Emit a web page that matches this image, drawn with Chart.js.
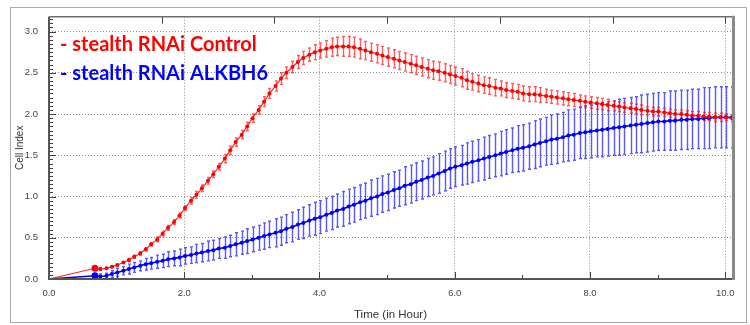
<!DOCTYPE html>
<html>
<head>
<meta charset="utf-8">
<script src="https://cdn.jsdelivr.net/npm/chart.js@4.4.1/dist/chart.umd.min.js"></script>
<style>
  html, body { margin: 0; padding: 0; background: #fff; }
</style>
</head>
<body>
<canvas id="cellIndex" width="750" height="325"></canvas>
<script>
// sampling times (hours)
const timeHours = [0,
  0.68, 0.76, 0.85, 0.93,
  1.01, 1.10, 1.18, 1.26, 1.35, 1.43, 1.51, 1.60, 1.68, 1.76, 1.85, 1.93,
  2.01, 2.10, 2.18, 2.26, 2.35, 2.43, 2.51, 2.60, 2.68, 2.76, 2.85, 2.93,
  3.01, 3.10, 3.18, 3.26, 3.35, 3.43, 3.51, 3.60, 3.68, 3.76, 3.85, 3.93,
  4.01, 4.10, 4.18, 4.26, 4.35, 4.43, 4.51, 4.60, 4.68, 4.76, 4.85, 4.93,
  5.01, 5.10, 5.18, 5.26, 5.35, 5.43, 5.51, 5.60, 5.68, 5.76, 5.85, 5.93,
  6.01, 6.10, 6.18, 6.26, 6.35, 6.43, 6.51, 6.60, 6.68, 6.76, 6.85, 6.93,
  7.01, 7.10, 7.18, 7.26, 7.35, 7.43, 7.51, 7.60, 7.68, 7.76, 7.85, 7.93,
  8.01, 8.10, 8.18, 8.26, 8.35, 8.43, 8.51, 8.60, 8.68, 8.76, 8.85, 8.93,
  9.01, 9.10, 9.18, 9.26, 9.35, 9.43, 9.51, 9.60, 9.68, 9.76, 9.85, 9.93,
  10.01, 10.10];

const controlMean = [0,
  0.13, 0.12, 0.13, 0.15,
  0.17, 0.20, 0.23, 0.27, 0.31, 0.36, 0.42, 0.48, 0.55, 0.62, 0.69, 0.77,
  0.86, 0.95, 1.02, 1.10, 1.19, 1.27, 1.36, 1.46, 1.56, 1.66, 1.75, 1.85,
  1.95, 2.05, 2.15, 2.25, 2.34, 2.43, 2.50, 2.57, 2.63, 2.68, 2.72, 2.75,
  2.77, 2.79, 2.81, 2.82, 2.82, 2.82, 2.81, 2.79, 2.77, 2.75, 2.73, 2.71,
  2.69, 2.67, 2.65, 2.63, 2.61, 2.59, 2.57, 2.55, 2.53, 2.52, 2.50, 2.48,
  2.46, 2.44, 2.41, 2.39, 2.37, 2.35, 2.34, 2.32, 2.31, 2.29, 2.28, 2.27,
  2.25, 2.24, 2.24, 2.23, 2.22, 2.21, 2.20, 2.19, 2.18, 2.17, 2.16, 2.15,
  2.14, 2.13, 2.12, 2.11, 2.10, 2.09, 2.08, 2.07, 2.06, 2.05, 2.04, 2.03,
  2.03, 2.02, 2.01, 2.00, 2.00, 1.99, 1.98, 1.98, 1.97, 1.97, 1.96, 1.96,
  1.96, 1.95];

const controlSd = [0,
  0.01, 0.01, 0.01, 0.01,
  0.01, 0.01, 0.02, 0.02, 0.02, 0.02, 0.02, 0.03, 0.03, 0.03, 0.03, 0.03,
  0.03, 0.04, 0.04, 0.04, 0.04, 0.04, 0.04, 0.05, 0.05, 0.05, 0.05, 0.05,
  0.05, 0.05, 0.06, 0.06, 0.06, 0.07, 0.07, 0.07, 0.08, 0.08, 0.08, 0.09,
  0.09, 0.10, 0.11, 0.11, 0.12, 0.12, 0.12, 0.12, 0.11, 0.11, 0.11, 0.11,
  0.11, 0.11, 0.11, 0.11, 0.11, 0.11, 0.11, 0.11, 0.11, 0.11, 0.11, 0.11,
  0.11, 0.11, 0.11, 0.10, 0.10, 0.10, 0.10, 0.10, 0.09, 0.09, 0.09, 0.09,
  0.09, 0.09, 0.09, 0.09, 0.08, 0.08, 0.08, 0.08, 0.08, 0.08, 0.07, 0.07,
  0.07, 0.07, 0.07, 0.07, 0.06, 0.06, 0.06, 0.06, 0.06, 0.06, 0.05, 0.05,
  0.05, 0.05, 0.05, 0.05, 0.05, 0.05, 0.05, 0.05, 0.05, 0.05, 0.05, 0.05,
  0.04, 0.04];

const alkbh6Mean = [0,
  0.04, 0.03, 0.04, 0.06,
  0.08, 0.10, 0.12, 0.14, 0.16, 0.18, 0.19, 0.21, 0.22, 0.24, 0.25, 0.26,
  0.28, 0.29, 0.31, 0.32, 0.34, 0.35, 0.37, 0.38, 0.40, 0.42, 0.44, 0.46,
  0.48, 0.50, 0.52, 0.54, 0.56, 0.58, 0.61, 0.63, 0.66, 0.68, 0.71, 0.73,
  0.75, 0.78, 0.80, 0.83, 0.85, 0.88, 0.90, 0.93, 0.95, 0.98, 1.00, 1.03,
  1.05, 1.08, 1.10, 1.13, 1.15, 1.18, 1.20, 1.23, 1.25, 1.28, 1.31, 1.34,
  1.36, 1.38, 1.40, 1.42, 1.44, 1.46, 1.48, 1.50, 1.52, 1.54, 1.56, 1.58,
  1.59, 1.61, 1.63, 1.65, 1.67, 1.69, 1.70, 1.72, 1.74, 1.75, 1.77, 1.78,
  1.79, 1.80, 1.81, 1.82, 1.83, 1.84, 1.85, 1.86, 1.87, 1.88, 1.89, 1.90,
  1.91, 1.91, 1.92, 1.92, 1.93, 1.93, 1.94, 1.94, 1.95, 1.95, 1.96, 1.96,
  1.96, 1.96];

const alkbh6Sd = [0,
  0.02, 0.03, 0.03, 0.04,
  0.05, 0.05, 0.06, 0.06, 0.06, 0.07, 0.07, 0.08, 0.08, 0.09, 0.09, 0.10,
  0.10, 0.10, 0.11, 0.11, 0.12, 0.12, 0.12, 0.13, 0.13, 0.14, 0.14, 0.15,
  0.15, 0.15, 0.16, 0.16, 0.17, 0.17, 0.17, 0.18, 0.18, 0.19, 0.19, 0.20,
  0.20, 0.20, 0.20, 0.20, 0.21, 0.21, 0.21, 0.21, 0.21, 0.22, 0.22, 0.22,
  0.22, 0.22, 0.22, 0.23, 0.23, 0.23, 0.23, 0.23, 0.23, 0.24, 0.24, 0.24,
  0.24, 0.24, 0.25, 0.25, 0.25, 0.26, 0.26, 0.26, 0.27, 0.27, 0.27, 0.28,
  0.28, 0.28, 0.29, 0.29, 0.29, 0.30, 0.30, 0.30, 0.31, 0.31, 0.31, 0.32,
  0.32, 0.32, 0.33, 0.33, 0.33, 0.34, 0.34, 0.34, 0.34, 0.35, 0.35, 0.35,
  0.35, 0.35, 0.36, 0.36, 0.36, 0.36, 0.36, 0.36, 0.37, 0.37, 0.37, 0.37,
  0.37, 0.37];

const seriesNames = ["- stealth RNAi Control", "- stealth RNAi ALKBH6"];
const topTicks = [1.6667, 3.3333, 5.0, 6.6667, 8.3333, 10.0];

const toPoints = (ys) => timeHours.map((t, i) => ({ x: t, y: ys[i] }));

// error bars, drawn under the lines
const errorBars = {
    id: "errorBars",
    beforeDatasetsDraw(chart) {
        const { ctx, chartArea: a, scales: { x, y } } = chart;
        ctx.save();
        ctx.beginPath();
        ctx.rect(a.left, a.top, a.width, a.height);
        ctx.clip();
        chart.data.datasets.slice().reverse().forEach(ds => {
            ctx.strokeStyle = ds.errColor;
            ctx.lineWidth = 1.4;
            ds.data.forEach((p, i) => {
                const e = ds.errors[i];
                if (!e) return;
                const px = Math.round(x.getPixelForValue(p.x)) + 0.5;
                const y1 = y.getPixelForValue(p.y + e);
                const y2 = y.getPixelForValue(p.y - e);
                ctx.beginPath();
                ctx.moveTo(px, y1); ctx.lineTo(px, y2);
                ctx.moveTo(px - 1.5, y1); ctx.lineTo(px + 1.5, y1);
                ctx.moveTo(px - 1.5, y2); ctx.lineTo(px + 1.5, y2);
                ctx.stroke();
            });
        });
        ctx.restore();
    }
};

// frame, inward ticks and the text legend
const frame = {
    id: "frame",
    afterDraw(chart) {
        const { ctx, chartArea: a, scales: { x, y } } = chart;
        ctx.save();
        ctx.strokeStyle = "#ababab";
        ctx.lineWidth = 1;
        ctx.strokeRect(10.5, 7.5, 736, 315);

        ctx.strokeStyle = "#404040";
        ctx.lineWidth = 1;
        ctx.beginPath();
        for (let k = 0; k * 0.05 <= y.max + 1e-6; k++) {
            const py = Math.round(y.getPixelForValue(k * 0.05)) + 0.5;
            const len = k % 10 === 0 ? 7 : 4;
            ctx.moveTo(a.left, py); ctx.lineTo(a.left + len, py);
        }
        for (let k = 0; k <= 10; k++) {
            const px = Math.round(x.getPixelForValue(k)) + 0.5;
            const len = k % 2 === 0 ? 7 : 4;
            ctx.moveTo(px, a.bottom); ctx.lineTo(px, a.bottom - len);
        }
        topTicks.forEach(t => {
            const px = Math.round(x.getPixelForValue(t)) + 0.5;
            ctx.moveTo(px, a.top); ctx.lineTo(px, a.top + 7);
        });
        ctx.stroke();

        // axes lines
        ctx.strokeStyle = "#555";
        ctx.lineWidth = 2;
        ctx.beginPath();
        ctx.moveTo(a.left, a.top); ctx.lineTo(a.left, a.bottom + 1);
        ctx.moveTo(a.left - 1, a.bottom); ctx.lineTo(a.right + 1, a.bottom);
        ctx.stroke();
        ctx.strokeStyle = "#6e6e6e";
        ctx.lineWidth = 1.5;
        ctx.beginPath();
        ctx.moveTo(a.left, a.top); ctx.lineTo(a.right, a.top);
        ctx.stroke();
        ctx.strokeStyle = "#8a8a8a";
        ctx.lineWidth = 3;
        ctx.beginPath();
        ctx.moveTo(a.right + 1.5, a.top - 1); ctx.lineTo(a.right + 1.5, a.bottom + 1);
        ctx.stroke();

        ctx.font = "bold 20px Lato";
        ctx.textBaseline = "alphabetic";
        ctx.fillStyle = "#ff0000";
        ctx.fillText(seriesNames[0], a.left + 11, a.top + 34);
        ctx.fillStyle = "#0000ff";
        ctx.fillText(seriesNames[1], a.left + 11, a.top + 63);
        ctx.restore();
    }
};

const tickFont = { family: "Liberation Sans", size: 9.5 };
const pointSize = (r0) => (c) => c.dataIndex === 1 ? 3.5 : (c.dataIndex === 0 ? 1.5 : r0);

new Chart(document.getElementById("cellIndex"), {
    type: "line",
    data: {
        datasets: [{
            label: seriesNames[0],
            data: toPoints(controlMean),
            errors: controlSd,
            errColor: "rgba(255, 25, 25, 0.7)",
            borderColor: "rgba(255, 0, 0, 0.85)",
            backgroundColor: "#ff0000",
            borderWidth: 1.2,
            pointRadius: pointSize(2),
            pointBorderWidth: 0,
            tension: 0
        }, {
            label: seriesNames[1],
            data: toPoints(alkbh6Mean),
            errors: alkbh6Sd,
            errColor: "rgba(25, 25, 255, 0.72)",
            borderColor: "#0000ff",
            backgroundColor: "#0000ff",
            borderWidth: 1.6,
            pointRadius: pointSize(2),
            pointBorderWidth: 0,
            tension: 0
        }]
    },
    options: {
        responsive: false,
        animation: false,
        devicePixelRatio: 1,
        layout: { padding: { left: 0, top: 14, right: 18, bottom: 0 } },
        plugins: {
            legend: { display: false },
            tooltip: { enabled: false }
        },
        scales: {
            x: {
                type: "linear",
                min: 0,
                max: 10.1,
                afterFit: (s) => { s.height = 46; },
                border: { display: false, dash: [1, 2] },
                grid: { color: "#8c8c8c", drawTicks: false, lineWidth: 1 },
                ticks: {
                    stepSize: 2,
                    includeBounds: false,
                    padding: 9,
                    maxRotation: 0,
                    autoSkip: false,
                    color: "#444",
                    font: tickFont,
                    callback: (v) => v.toFixed(1)
                },
                title: {
                    display: true,
                    text: "Time (in Hour)",
                    color: "#333",
                    font: { family: "Liberation Sans", size: 11.5 },
                    padding: { top: 0, bottom: 3 }
                }
            },
            y: {
                min: 0,
                max: 3.18,
                afterFit: (s) => { s.width = 49; },
                border: { display: false, dash: [1, 2] },
                grid: { color: "#8c8c8c", drawTicks: false, lineWidth: 1 },
                ticks: {
                    stepSize: 0.5,
                    includeBounds: false,
                    padding: 11,
                    color: "#444",
                    font: tickFont,
                    callback: (v) => v.toFixed(1)
                },
                title: {
                    display: true,
                    text: "Cell Index",
                    color: "#333",
                    font: { family: "Liberation Sans", size: 10 },
                    padding: { top: 14, bottom: 0 }
                }
            }
        }
    },
    plugins: [errorBars, frame]
});
</script>
</body>
</html>
